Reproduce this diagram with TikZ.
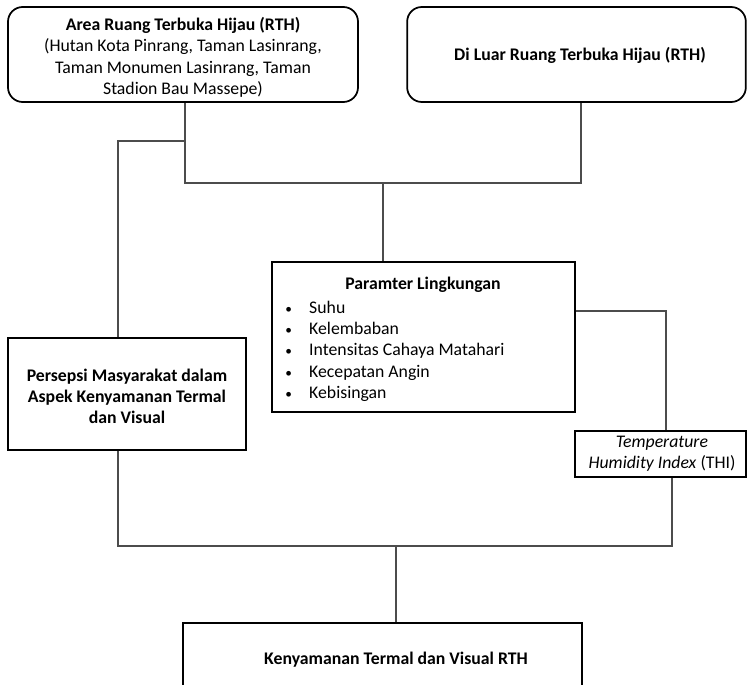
\documentclass[tikz,border=0pt]{standalone}
\usepackage{fontspec}
\setmainfont{Carlito}
\newcommand{\smbul}{{\fontsize{10pt}{10pt}\selectfont •}}
\begin{document}
\begin{tikzpicture}[x=0.75pt,y=-0.75pt,
  txt/.style={font=\fontsize{13.3pt}{16pt}\selectfont, align=center, inner sep=0pt},
  rbox/.style={draw=black, line width=1.3pt, rounded corners=11pt, inner sep=0pt},
  sbox/.style={draw=black, line width=1.1pt, inner sep=0pt},
  conn/.style={draw=black!70, line width=0.8pt}]
\useasboundingbox (0,0) rectangle (747,685);
% boxes
\node[rbox, minimum width=262.5pt, minimum height=71.25pt] (box1) at (183,54.5) {};
\node[txt] (t1) at (183,57.5) {\textbf{Area Ruang Terbuka Hijau (RTH)}\\(Hutan Kota Pinrang, Taman Lasinrang,\\Taman Monumen Lasinrang, Taman\\Stadion Bau Massepe)};
\node[rbox, minimum width=254pt, minimum height=71.25pt] (box2) at (576.5,54.5) {};
\node[txt] (t2) at (580,55) {\textbf{Di Luar Ruang Terbuka Hijau (RTH)}};
\node[sbox, minimum width=227.25pt, minimum height=112.5pt] (box3) at (423.5,337) {};
\node[txt] (t3) at (423,285) {\textbf{Paramter Lingkungan}};
\node[txt, anchor=north west, align=left] (t3l) at (285,298) {\begin{tabular}{@{}l@{\hspace{13pt}}l@{}}\smbul&Suhu\\\smbul&Kelembaban\\\smbul&Intensitas Cahaya Matahari\\\smbul&Kecepatan Angin\\\smbul&Kebisingan\end{tabular}};
\node[sbox, minimum width=178.5pt, minimum height=84pt] (box4) at (127,394) {};
\node[txt] (t4) at (127,396.5) {\textbf{Persepsi Masyarakat dalam}\\\textbf{Aspek Kenyamanan Termal}\\\textbf{dan Visual}};
\node[sbox, minimum width=128.25pt, minimum height=34.5pt] (box5) at (660.5,454) {};
\node[txt] (t5) at (662,454) {\textit{Temperature}\\\textit{Humidity Index} (THI)};
\node[sbox, minimum width=299.25pt, minimum height=56.25pt] (box6) at (382.5,660.5) {};
\node[txt] (t6) at (396,660) {\textbf{Kenyamanan Termal dan Visual RTH}};
% junctions
\coordinate (jtop) at (383,183);
\coordinate (jl) at (118,141);
\coordinate (j1) at (185,183);
\coordinate (j2) at (581,183);
\coordinate (jr) at (666,311);
\coordinate (jb) at (396,546);
\coordinate (jb2) at (672,546);
% connectors
\draw[conn] (j1 |- box1.south) -- (j1) -- (j2) -- (j2 |- box2.south);
\draw[conn] (jtop) -- (jtop |- box3.north);
\draw[conn] (j1 |- jl) -- (jl) -- (jl |- box4.north);
\draw[conn] (jr -| box3.east) -- (jr) -- (jr |- box5.north);
\draw[conn] (jl |- box4.south) -- (jl |- jb) -- (jb2) -- (jb2 |- box5.south);
\draw[conn] (jb) -- (jb |- box6.north);
\end{tikzpicture}
\end{document}
